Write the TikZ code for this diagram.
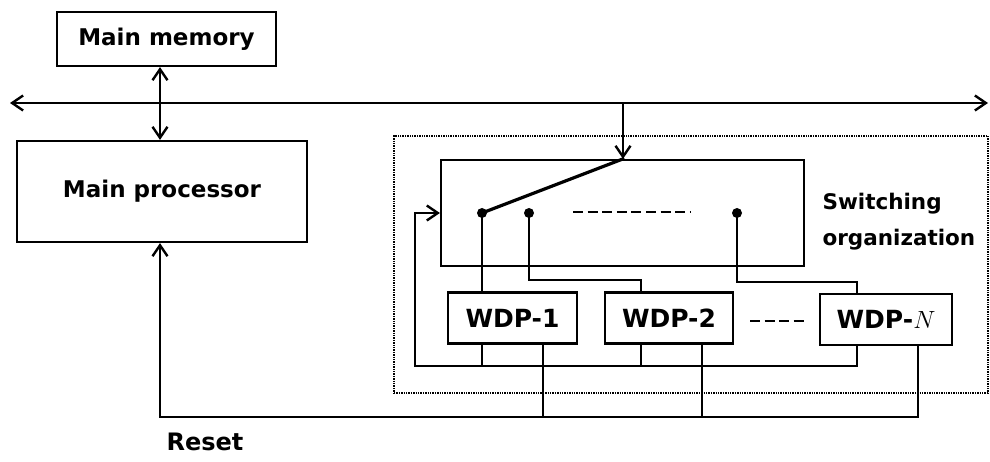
\documentclass[tikz,border=0pt]{standalone}
\usepackage{fontspec}
\setmainfont{DejaVu Sans}
\usetikzlibrary{arrows.meta}

\begin{document}
\begin{tikzpicture}[x=1pt, y=-1pt, line width=2.4pt,
    >={Straight Barb[length=11pt, width=15pt]},
    box/.style={draw, line width=2.2pt, inner sep=0pt, font=\bfseries\fontsize{23}{28}\selectfont},
    wdp/.style={box, minimum height=51pt, font=\bfseries\fontsize{25}{30}\selectfont},
    orgframe/.style={draw, line width=1.6pt, dash pattern=on 1.4pt off 1pt, inner sep=0pt}]
    \useasboundingbox (0,0) rectangle (990,462);

    % Draw the memory, the processor and the switch box
    \node[box, minimum width=219pt, minimum height=54pt] (mem) at (166.5,39) {Main memory};
    \node[box, minimum width=290pt, minimum height=101pt] (proc) at (162,191.5) {Main processor};
    \node[orgframe, minimum width=594pt, minimum height=257pt] (org) at (691,264.5) {};
    \node[box, minimum width=363pt, minimum height=106pt] (sw) at (622.5,213) {};
    \node[anchor=west, align=left, font=\bfseries\fontsize{21.5}{36}\selectfont] (swlabel) at (818,222) {Switching\\organization};

    % The WDP units
    \node[wdp, minimum width=129pt] (wdp1) at (512.5,318) {WDP-1};
    \node[wdp, minimum width=128pt] (wdp2) at (669,318) {WDP-2};
    \node[wdp, minimum width=132pt] (wdpN) at (886,319.5) {WDP-$N$};

    % Bus and the points on it
    \coordinate (busL) at (10,103);
    \coordinate (busR) at (988,103);
    \coordinate (tap) at (623,103);
    \draw[<->] (busL) -- (busR);
    \draw[<->] (mem.south -| 160,0) -- (proc.north -| 160,0);
    \draw[->] (tap) -- (tap |- sw.north);

    % Switch contacts
    \coordinate (d1) at (482,213);
    \coordinate (d2) at (529,213);
    \coordinate (d3) at (737,213);
    \draw[line width=3.2pt, line cap=round] (tap |- sw.north) -- (d1);
    \foreach \d in {d1,d2,d3}
        {
            \fill (\d) circle (5);
        }
    \draw[dash pattern=on 10pt off 4.6pt] (573,212) -- (690,212);
    \draw[dash pattern=on 10pt off 4.5pt] (750,321) -- (806,321);

    % Contacts down to the WDP units
    \coordinate (j2) at (641,280);
    \coordinate (jN) at (857,282);
    \draw (d1) -- (d1 |- wdp1.north);
    \draw (d2) |- (j2) -- (j2 |- wdp2.north);
    \draw (d3) |- (jN) -- (jN |- wdpN.north);

    % Return lines back to the switch
    \coordinate (fb) at (415,366);
    \draw[->] (jN |- wdpN.south) |- (fb) |- (sw.west);
    \draw (d1 |- wdp1.south) -- (d1 |- fb);
    \draw (j2 |- wdp2.south) -- (j2 |- fb);

    % Reset lines to the processor
    \coordinate (rst) at (160,417);
    \draw[->] (918,0 |- wdpN.south) |- (rst) -- (rst |- proc.south);
    \draw (543,0 |- wdp1.south) -- (543,417);
    \draw (702,0 |- wdp2.south) -- (702,417);
    \node[font=\bfseries\fontsize{24}{30}\selectfont] (reset) at (205,442) {Reset};

\end{tikzpicture}
\end{document}
